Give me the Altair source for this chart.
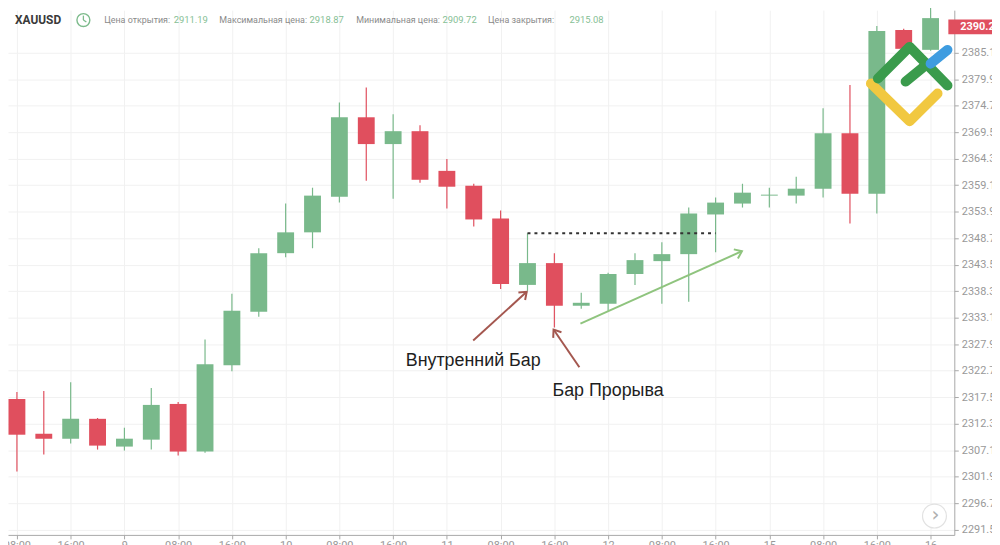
import altair as alt
import pandas as pd

GREEN = "#79b98b"
RED = "#e04f5e"

# ---- candle data (4h bars) ----
opens  = [2317.13, 2310.32, 2309.34, 2313.24, 2307.79, 2309.15, 2316.16, 2306.81, 2323.76, 2334.27,
          2345.76, 2349.85, 2356.86, 2372.44, 2367.18, 2369.71, 2361.92, 2359.00, 2352.58, 2339.53,
          2343.81, 2335.44, 2335.83, 2341.67, 2344.20, 2345.57, 2353.36, 2355.50, 2357.06, 2357.06,
          2358.42, 2369.32, 2357.45, 2389.58, 2385.68]
highs  = [2318.50, 2318.69, 2320.44, 2313.40, 2311.49, 2319.28, 2316.55, 2328.82, 2337.78, 2346.73,
          2355.50, 2358.61, 2375.36, 2378.28, 2373.02, 2370.88, 2364.26, 2359.39, 2354.13, 2349.66,
          2345.76, 2337.97, 2341.90, 2345.76, 2347.90, 2354.72, 2356.67, 2359.39, 2358.61, 2360.76,
          2374.19, 2378.80, 2390.36, 2389.80, 2397.00]
lows   = [2302.92, 2306.23, 2308.37, 2307.20, 2307.01, 2307.20, 2306.03, 2306.60, 2322.59, 2333.30,
          2344.98, 2346.73, 2355.69, 2359.98, 2356.47, 2359.59, 2354.52, 2351.02, 2338.75, 2338.36,
          2331.16, 2334.86, 2334.47, 2339.53, 2335.83, 2336.22, 2345.96, 2354.72, 2354.72, 2355.50,
          2356.67, 2351.60, 2353.55, 2385.70, 2385.50]
closes = [2310.12, 2309.34, 2313.24, 2307.98, 2309.34, 2315.97, 2306.81, 2323.95, 2334.47, 2345.76,
          2349.85, 2357.06, 2372.44, 2367.18, 2369.71, 2360.17, 2358.81, 2352.38, 2339.72, 2343.81,
          2335.44, 2336.02, 2341.67, 2344.40, 2345.57, 2353.55, 2355.69, 2357.64, 2357.25, 2358.42,
          2369.32, 2357.45, 2389.38, 2385.88, 2391.91]
candle_idx = list(range(len(opens)))

y_ticks = [2291.5, 2296.7, 2301.9, 2307.1, 2312.3, 2317.5, 2322.7, 2327.9, 2333.1, 2338.3,
           2343.5, 2348.7, 2353.9, 2359.1, 2364.3, 2369.5, 2374.7, 2379.9, 2385.1]
x_tick_pos = list(range(0, 35, 2))
x_tick_labels = ["08:00", "16:00", "9", "08:00", "16:00", "10", "08:00", "16:00", "11",
                 "08:00", "16:00", "12", "08:00", "16:00", "15", "08:00", "16:00", "16"]

last_price = 2390.2
header_symbol = "XAUUSD"
header_labels = ["Цена открытия:", "Максимальная цена:", "Минимальная цена:", "Цена закрытия:"]
header_values = ["2911.19", "2918.87", "2909.72", "2915.08"]

# inside-bar high level (dotted), from bar 19 to bar 26
level_x = [19, 26]
level_y = 2349.66

# annotation arrows (candle index, price)
arrow_x1 = [16.98, 20.93, 20.97]
arrow_y1 = [2328.62, 2323.37, 2331.93]
arrow_x2 = [18.97, 19.97, 26.98]
arrow_y2 = [2338.17, 2330.77, 2346.15]
arrow_angle = [47.8, 325.6, 65.9]
arrow_color = ["#a4574f", "#a4574f", "#8fc47e"]

notes = ["Внутренний Бар", "Бар Прорыва"]
note_x = [14.47, 19.93]
note_y = [2323.56, 2317.72]

# logo strokes (candle index, price)
logo_seg = ["y", "y", "y", "g1", "g1", "g1", "g2", "g2", "b", "b"]
logo_ord = [0, 1, 2, 0, 1, 2, 0, 1, 0, 1]
logo_x = [31.78, 33.22, 34.26, 32.04, 33.22, 34.63, 33.07, 33.89, 34.00, 34.63]
logo_y = [2379.06, 2371.66, 2377.11, 2380.04, 2386.27, 2378.67, 2379.45, 2382.96, 2382.96, 2385.68]

XDOM = [-0.3322, 34.883]
YDOM = [2290.45, 2393.47]
xs = alt.Scale(domain=XDOM, nice=False, zero=False, padding=0)
ys = alt.Scale(domain=YDOM, nice=False, zero=False, padding=0)

label_js = "[" + ",".join("'%s'" % s for s in x_tick_labels) + "][round(datum.value/2)]"

x_axis = alt.Axis(values=x_tick_pos, labelExpr=label_js, grid=True, gridColor="#f1f1f1",
                  domainColor="#a8a8a8", tickColor="#a8a8a8", tickSize=4, labelColor="#999999",
                  labelFont="Roboto", labelFontSize=11, labelPadding=1, title=None)
y_axis = alt.Axis(orient="right", values=y_ticks, format=".1f", grid=True, gridColor="#f1f1f1",
                  domainColor="#a8a8a8", tickColor="#a8a8a8", tickSize=4, labelColor="#999999",
                  labelFont="Roboto", labelFontSize=11, labelPadding=3, title=None)


def X(f):
    return alt.X(f, type="quantitative", scale=xs, axis=x_axis)


def Y(f):
    return alt.Y(f, type="quantitative", scale=ys, axis=y_axis)


df = pd.DataFrame({"i": candle_idx, "open": opens, "high": highs, "low": lows, "close": closes})
col = alt.condition("datum.close >= datum.open", alt.value(GREEN), alt.value(RED))

wicks = alt.Chart(df).mark_rule(strokeWidth=1.2).encode(
    x=X("i"), y=Y("low"), y2="high:Q", color=col,
)
bodies = alt.Chart(df).mark_bar(size=17).encode(
    x=X("i"), y=Y("open"), y2="close:Q", color=col,
)

lvl = alt.Chart(pd.DataFrame({"x": [level_x[0]], "x2": [level_x[1]], "y": [level_y]})).mark_rule(
    strokeDash=[3, 4], strokeWidth=2, color="#333333"
).encode(x=X("x"), x2="x2:Q", y=Y("y"))

adf = pd.DataFrame({"x1": arrow_x1, "y1": arrow_y1, "x2": arrow_x2, "y2": arrow_y2,
                    "ang": arrow_angle, "c": arrow_color})
arrow_lines = alt.Chart(adf).mark_rule(strokeWidth=2).encode(
    x=X("x1"), y=Y("y1"), x2="x2:Q", y2="y2:Q", color=alt.Color("c:N", scale=None),
)
arrow_heads = alt.Chart(adf).mark_point(
    shape="M-0.75,1L0,0L0.75,1", size=180, strokeWidth=2, filled=False, opacity=1
).encode(
    x=X("x2"), y=Y("y2"),
    angle=alt.Angle("ang:Q", scale=None), color=alt.Color("c:N", scale=None),
)

ndf = pd.DataFrame({"t": notes, "x": note_x, "y": note_y})
note_text = alt.Chart(ndf).mark_text(
    align="left", baseline="alphabetic", fontSize=18, font="Liberation Sans", color="#1e1e1e"
).encode(x=X("x"), y=Y("y"), text="t:N")

ldf = pd.DataFrame({"seg": logo_seg, "ord": logo_ord, "x": logo_x, "y": logo_y})
logo = alt.Chart(ldf).mark_line(strokeWidth=10, strokeCap="round", strokeJoin="round").encode(
    x=X("x"), y=Y("y"),
    detail="seg:N", order="ord:Q",
    color=alt.Color("seg:N", scale=alt.Scale(domain=["y", "g1", "g2", "b"],
                                             range=["#f1c840", "#3a9b4c", "#3a9b4c", "#3e9ce0"]),
                    legend=None),
)

one = pd.DataFrame({"v": [last_price]})
tag_rect = alt.Chart(one).mark_rect(color=RED).encode(
    x=alt.value(948), x2=alt.value(1000),
    y=Y("y1"), y2="y2:Q",
).transform_calculate(y1="datum.v + 1.45", y2="datum.v - 1.45")
tag_text = alt.Chart(one).mark_text(
    align="left", baseline="middle", color="white", fontSize=11, fontWeight="bold", font="Roboto"
).encode(x=alt.value(960), y=Y("v"), text=alt.Text("v:Q", format=".1f"))

layers = [wicks, bodies, lvl, arrow_lines, arrow_heads, note_text, logo, tag_rect, tag_text]

# header
blank = pd.DataFrame({"a": [0]})
layers.append(alt.Chart(blank).mark_text(
    align="left", baseline="middle", fontSize=12, fontWeight="bold", font="Roboto", color="#3a3a3a"
).encode(x=alt.value(7), y=alt.value(10), text=alt.value(header_symbol)))
layers.append(alt.Chart(blank).mark_point(shape="circle", size=170, filled=False, strokeWidth=1.4,
                                          color="#7dbb8c", opacity=1).encode(
    x=alt.value(76), y=alt.value(10)))
layers.append(alt.Chart(blank).mark_rule(color="#7dbb8c", strokeWidth=1.3).encode(
    x=alt.value(76), y=alt.value(5.5), y2=alt.value(10)))
layers.append(alt.Chart(blank).mark_rule(color="#7dbb8c", strokeWidth=1.3).encode(
    x=alt.value(76), x2=alt.value(79), y=alt.value(10), y2=alt.value(12)))
lab_px = [97, 213, 351, 484]
val_px = [167, 304, 438, 566]
for lab, val, lx, vx in zip(header_labels, header_values, lab_px, val_px):
    layers.append(alt.Chart(blank).mark_text(
        align="left", baseline="middle", fontSize=9, font="Roboto", color="#8a8a8a"
    ).encode(x=alt.value(lx), y=alt.value(10), text=alt.value(lab)))
    layers.append(alt.Chart(blank).mark_text(
        align="left", baseline="middle", fontSize=9.5, font="Roboto", color="#86c095"
    ).encode(x=alt.value(vx), y=alt.value(10), text=alt.value(val)))

# scroll button
layers.append(alt.Chart(blank).mark_point(shape="circle", size=580, filled=True, fill="white",
                                          stroke="#e2e2e2", strokeWidth=1.2, opacity=1).encode(
    x=alt.value(934), y=alt.value(510)))
layers.append(alt.Chart(blank).mark_text(fontSize=20, color="#b0b0b0", font="DejaVu Sans",
                                         baseline="middle", align="center").encode(
    x=alt.value(935), y=alt.value(509), text=alt.value("›")))

chart = alt.layer(*layers).properties(
    width=954, height=529,
    background="white",
    autosize=alt.AutoSizeParams(type="none"),
    padding={"left": 0, "top": 0, "right": 38, "bottom": 8},
).configure_view(stroke=None)

chart.save("out.html", embed_options={"renderer": "svg", "actions": False})
